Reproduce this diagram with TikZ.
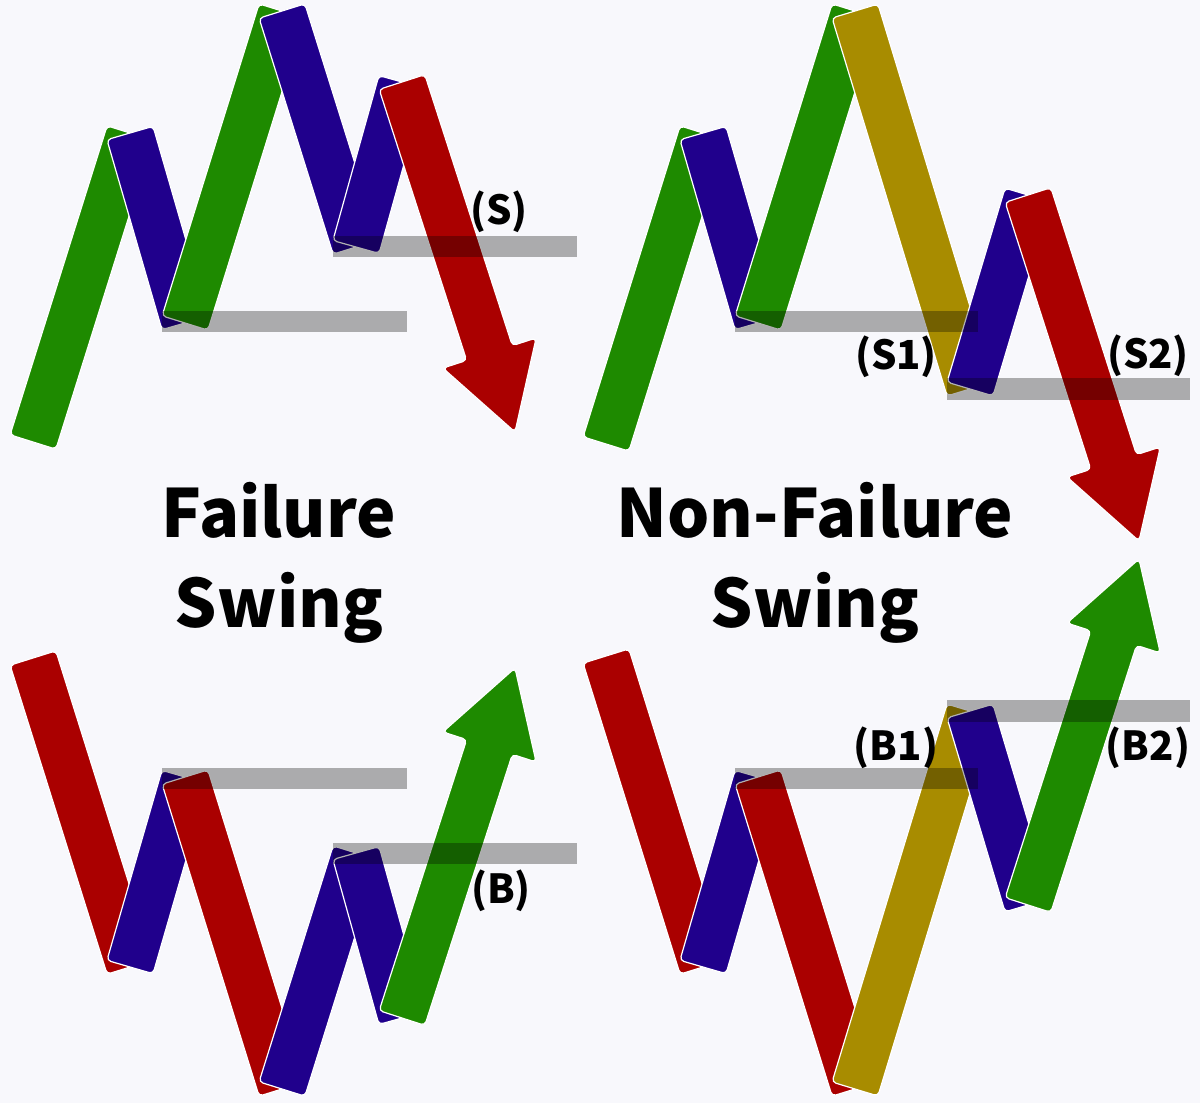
\documentclass[tikz,border=0pt]{standalone}
\usepackage{fontspec}
\newfontfamily\swingfont{Noto Sans CJK SC}
\usetikzlibrary{calc}

\definecolor{swgreen}{RGB}{30,138,0}
\definecolor{swblue}{RGB}{32,0,140}
\definecolor{swred}{RGB}{170,0,0}
\definecolor{swgold}{RGB}{168,140,0}
\definecolor{swback}{RGB}{248,248,252}

\newcommand{\swingbar}[3]{%
  \filldraw[barline,fill=#1] ($(#2)!24pt!90:(#3)$) -- ($(#2)!24pt!-90:(#3)$)
    -- ($(#3)!24pt!90:(#2)$) -- ($(#3)!24pt!-90:(#2)$) -- cycle;}
\newcommand{\swingarrow}[3]{%
  \coordinate (#2j) at ($(#3)!83pt!(#2)$);
  \filldraw[barline,fill=#1] ($(#2)!24pt!90:(#3)$) -- ($(#2)!24pt!-90:(#3)$)
    -- ($(#2j)!24pt!-90:(#3)$) -- ($(#2j)!49pt!-90:(#3)$) -- (#3)
    -- ($(#2j)!49pt!90:(#3)$) -- ($(#2j)!24pt!90:(#3)$) -- cycle;}

\begin{document}
\begin{tikzpicture}[x=1pt,y=-1pt,
		barline/.style={draw=white,line width=1.2pt,rounded corners=4pt},
		greybar/.style={fill=black,fill opacity=0.31},
		swinglabel/.style={inner sep=0pt,font=\swingfont\bfseries\fontsize{40}{48}\selectfont},
		swingtitle/.style={inner sep=0pt,anchor=base,font=\swingfont\bfseries\fontsize{66.5}{80}\selectfont}]
		\useasboundingbox[fill=swback] (0,0) rectangle (1200,1103);
		\coordinate (fa0) at (33,442);
		\coordinate (fa1) at (130,133);
		\coordinate (fa2) at (185,323);
		\coordinate (fa3) at (282,11);
		\coordinate (fa4) at (356,247);
		\coordinate (fa5) at (402,82);
		\coordinate (fa6) at (515,432);
		\coordinate (fb0) at (33,658);
		\coordinate (fb1) at (130,967);
		\coordinate (fb2) at (185,777);
		\coordinate (fb3) at (282,1089);
		\coordinate (fb4) at (356,853);
		\coordinate (fb5) at (402,1018);
		\coordinate (fb6) at (515,668);
		\coordinate (na0) at (606,444);
		\coordinate (na1) at (703,133);
		\coordinate (na2) at (758,323);
		\coordinate (na3) at (855,11);
		\coordinate (na4) at (970,389);
		\coordinate (na5) at (1028,195);
		\coordinate (na6) at (1139,541);
		\coordinate (nb0) at (606,656);
		\coordinate (nb1) at (703,967);
		\coordinate (nb2) at (758,777);
		\coordinate (nb3) at (855,1089);
		\coordinate (nb4) at (970,711);
		\coordinate (nb5) at (1028,905);
		\coordinate (nb6) at (1139,559);
		\foreach \a/\b/\c in {fa0/fa1/swgreen,fa1/fa2/swblue,fa2/fa3/swgreen,fa3/fa4/swblue,fa4/fa5/swblue,
			fb0/fb1/swred,fb1/fb2/swblue,fb2/fb3/swred,fb3/fb4/swblue,fb4/fb5/swblue,
			na0/na1/swgreen,na1/na2/swblue,na2/na3/swgreen,na3/na4/swgold,na4/na5/swblue,
			nb0/nb1/swred,nb1/nb2/swblue,nb2/nb3/swred,nb3/nb4/swgold,nb4/nb5/swblue}
			\swingbar{\c}{\a}{\b};
		\swingarrow{swred}{fa5}{fa6}
		\swingarrow{swgreen}{fb5}{fb6}
		\swingarrow{swred}{na5}{na6}
		\swingarrow{swgreen}{nb5}{nb6}
		\fill[greybar] (162,311) rectangle (407,332);
		\fill[greybar] (333,236) rectangle (577,257);
		\fill[greybar] (162,768) rectangle (407,789);
		\fill[greybar] (333,843) rectangle (577,864);
		\fill[greybar] (735,311) rectangle (978,332);
		\fill[greybar] (947,378) rectangle (1190,400);
		\fill[greybar] (735,768) rectangle (978,789);
		\fill[greybar] (947,700) rectangle (1190,722);
		\node[swinglabel] (labs) at (499,212) {(S)};
		\node[swinglabel] (labb) at (501,891) {(B)};
		\node[swinglabel] (labs1) at (896,357) {(S1)};
		\node[swinglabel] (labs2) at (1148,356) {(S2)};
		\node[swinglabel] (labb1) at (896,748) {(B1)};
		\node[swinglabel] (labb2) at (1148,748) {(B2)};
		\node[swingtitle] (fail) at (279,537) {Failure};
		\node[swingtitle] (failswing) at (279,627) {Swing};
		\node[swingtitle] (nonfail) at (815,537) {Non-Failure};
		\node[swingtitle] (nonfailswing) at (815,627) {Swing};
\end{tikzpicture}
\end{document}
